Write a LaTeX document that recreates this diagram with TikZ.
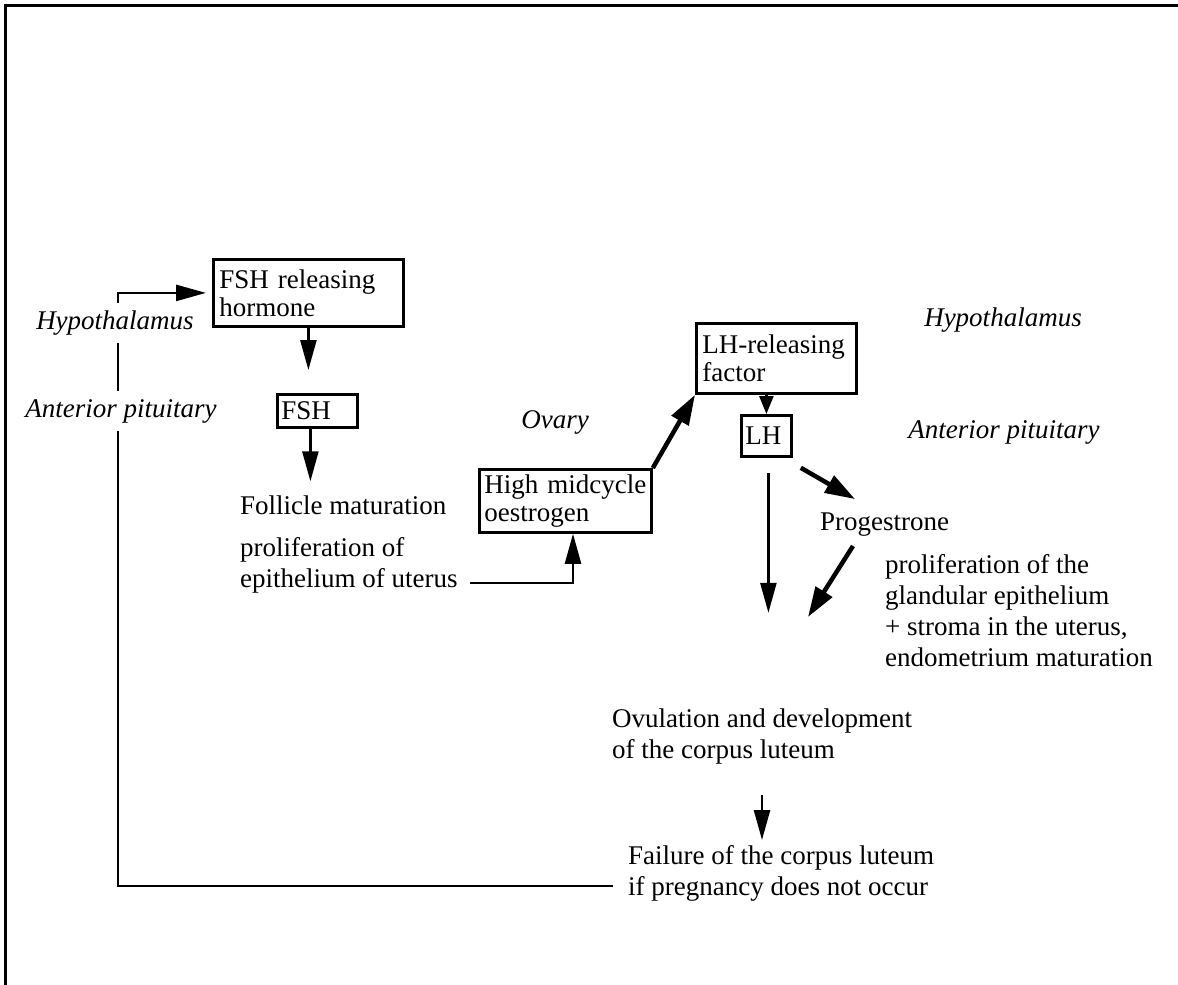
\documentclass[tikz,border=0pt]{standalone}
\usepackage{fontspec}
\setmainfont{Liberation Serif}
\usetikzlibrary{arrows.meta,calc}
\begin{document}
\begin{tikzpicture}[x=1pt,y=-1pt,
  txt/.style={font=\fontsize{27}{31}\selectfont, inner sep=0pt, align=left, anchor=west},
  lab/.style={font=\fontsize{27}{31}\selectfont\itshape, inner sep=0pt},
  labw/.style={lab, fill=white, inner xsep=2pt, inner ysep=8pt},
  box/.style={draw, line width=2.8pt, anchor=north west, font=\fontsize{27}{28}\selectfont, align=left, inner xsep=6pt, inner ysep=0pt},
  arr/.style={line width=2.5pt, -{Triangle[length=30pt,width=16pt]}},
  sarr/.style={line width=2.5pt, -{Triangle[length=18pt,width=14pt]}},
  tarr/.style={line width=4.5pt, -{Triangle[length=30pt,width=19pt]}},
]
\useasboundingbox (0,0) rectangle (1178,985);
\draw[line width=3pt] (5,985) -- (5,5) -- (1178,5);

% boxes
\node[box, minimum width=190pt, minimum height=67pt, text width=178pt] (fshrh) at (212,258) {\mbox{FSH releasing}\\hormone};
\node[box, minimum width=80pt, minimum height=33pt, text width=72pt, inner xsep=4pt] (fsh) at (276,393) {FSH};
\node[box, minimum width=160pt, minimum height=70pt, text width=148pt] (lhrf) at (695,322) {\mbox{LH-releasing}\\factor};
\node[box, minimum width=50pt, minimum height=41pt, text width=42pt, inner xsep=4pt] (lh) at (740,414) {LH};
\node[box, minimum width=172pt, minimum height=63pt, text width=162pt, inner xsep=5pt] (hmo) at (478,468) {\mbox{High midcycle}\\oestrogen};

% texts
\node[txt] (foll) at (240,505) {Follicle maturation};
\node[txt] (prolif) at (240,565) {proliferation of\\epithelium of uterus};
\node[txt] (prog) at (820,525) {Progestrone};
\node[txt] (gland) at (885,611) {proliferation of the\\glandular epithelium\\+ stroma in the uterus,\\endometrium maturation};
\node[txt] (ovu) at (612,736) {Ovulation and development\\of the corpus luteum};
\node[txt] (fail) at (628,873) {Failure of the corpus luteum\\if pregnancy does not occur};

\node[lab] (hyr) at (1003,320) {Hypothalamus};
\node[lab] (apr) at (1004,432) {Anterior pituitary};
\node[lab] (ovary) at (555,422) {Ovary};

% free ends
\coordinate (c1) at (613,886);
\coordinate (k1) at (118,886);
\coordinate (c2) at (470,583);
\coordinate (c3) at (808,617);
\coordinate (c4) at (762,795);
\coordinate (c5) at (762,840);

% connectors
\draw[arr, shorten >=6pt] (c1) -- (k1) |- (fshrh.west);
\node[labw] (hyl) at (115,323) {Hypothalamus};
\node[labw] (apl) at (121,411) {Anterior pituitary};

\draw[arr, shorten >=23pt] (fshrh.south) -- (fshrh.south |- fsh.north);
\draw[arr, shorten >=14pt] ([xshift=-7pt]fsh.south) -- ([xshift=-7pt]fsh.south |- foll.north);
\draw[arr] (c2) -| ([xshift=95pt]hmo.south west);
\draw[tarr] (hmo.north east) -- (lhrf.south west);
\draw[sarr] (lh.north |- lhrf.south) -- (lh.north);
\draw[tarr] ([shift={(8,10)}]lh.south east) -- ([shift={(35,-14)}]prog.north west);
\draw[arr] ([shift={(2,15)}]lh.south) -- ([shift={(2,155)}]lh.south);
\draw[tarr] ([shift={(33,9)}]prog.south west) -- (c3);
\draw[arr] (c4) -- (c5);
\end{tikzpicture}
\end{document}
